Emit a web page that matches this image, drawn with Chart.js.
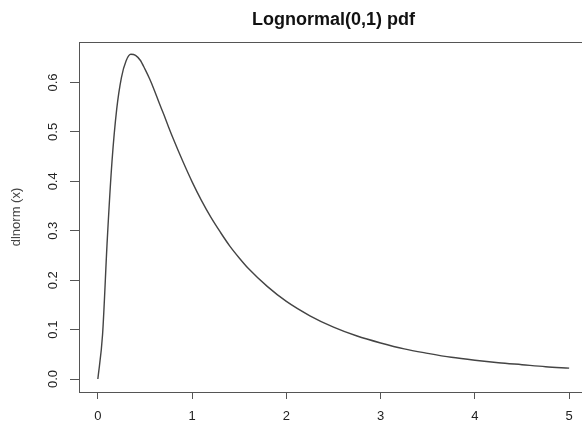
<!DOCTYPE html>
<html>
<head>
<meta charset="utf-8">
<script src="https://cdn.jsdelivr.net/npm/chart.js@4"></script>
<style>
  html, body { margin: 0; padding: 0; background: #fff; overflow: hidden; }
  #wrap { width: 588px; height: 425px; }
</style>
</head>
<body>
<div id="wrap"><canvas id="grafico" width="588" height="425"></canvas></div>
<script>
// values
const xs = [0, 0.05, 0.1, 0.15, 0.2, 0.25, 0.3, 0.35, 0.4, 0.45, 0.5, 0.55, 0.6, 0.65, 0.7, 0.75, 0.8, 0.9, 1.0,
            1.1, 1.2, 1.3, 1.4, 1.5, 1.6, 1.8, 2.0, 2.25, 2.5, 2.75, 3.0, 3.25, 3.5, 3.75, 4.0, 4.25, 4.5, 4.75, 5.0];
const densidad = [0, 0.090, 0.282, 0.440, 0.546, 0.610, 0.644, 0.657, 0.655, 0.645, 0.627, 0.607, 0.584, 0.559, 0.535, 0.510, 0.486, 0.441, 0.399,
                  0.361, 0.327, 0.297, 0.269, 0.245, 0.223, 0.187, 0.157, 0.128, 0.105, 0.087, 0.073, 0.061, 0.052, 0.044, 0.038, 0.033, 0.029, 0.025, 0.022];
const xTicks = [0, 1, 2, 3, 4, 5];
const yTicks = [0, 0.1, 0.2, 0.3, 0.4, 0.5, 0.6];
const titulo = "Lognormal(0,1) pdf";
const yTitulo = "dlnorm (x)";

const fuente = "'Liberation Sans', Arial, sans-serif";

// caja y titulo al estilo de R
const cajaR = {
  id: "cajaR",
  afterDraw(chart) {
    const { ctx, chartArea: a } = chart;
    ctx.save();
    ctx.strokeStyle = "#555";
    ctx.lineWidth = 1;
    ctx.strokeRect(a.left + 0.5, a.top + 0.5, a.right - a.left, a.bottom - a.top);
    ctx.fillStyle = "#111";
    ctx.font = "bold 18px " + fuente;
    ctx.textAlign = "center";
    ctx.textBaseline = "alphabetic";
    ctx.fillText(titulo, (a.left + a.right) / 2, 25);
    ctx.restore();
  }
};

new Chart(document.getElementById("grafico"), {
  type: "line",
  data: {
    datasets: [{
      data: xs.map((x, i) => ({ x: x, y: densidad[i] })),
      borderColor: "#444",
      borderWidth: 1.4,
      pointRadius: 0,
      fill: false,
      cubicInterpolationMode: "monotone"
    }]
  },
  options: {
    responsive: false,
    animation: false,
    layout: { padding: { top: 42, right: 0, left: 0, bottom: 0 } },
    plugins: { legend: { display: false }, tooltip: { enabled: false } },
    scales: {
      x: {
        type: "linear",
        min: -0.2,
        max: 5.2,
        afterBuildTicks: s => { s.ticks = xTicks.map(v => ({ value: v })); },
        afterFit: s => { s.height = 33; },
        border: { display: false },
        grid: { drawOnChartArea: false, tickLength: 7, color: "#555" },
        ticks: { color: "#222", font: { family: fuente, size: 13 }, padding: 10, maxRotation: 0 }
      },
      y: {
        min: -0.02623,
        max: 0.6819,
        afterBuildTicks: s => { s.ticks = yTicks.map(v => ({ value: v })); },
        afterFit: s => { s.width = 79; },
        border: { display: false },
        grid: { drawOnChartArea: false, tickLength: 9, color: "#555" },
        ticks: {
          color: "#222",
          font: { family: fuente, size: 13 },
          minRotation: 90,
          maxRotation: 90,
          crossAlign: "center",
          padding: 8,
          callback: v => v.toFixed(1)
        },
        title: {
          display: true,
          text: yTitulo,
          color: "#444",
          font: { family: fuente, size: 13 },
          padding: { top: 9, bottom: 0 }
        }
      }
    }
  },
  plugins: [cajaR]
});
</script>
</body>
</html>
